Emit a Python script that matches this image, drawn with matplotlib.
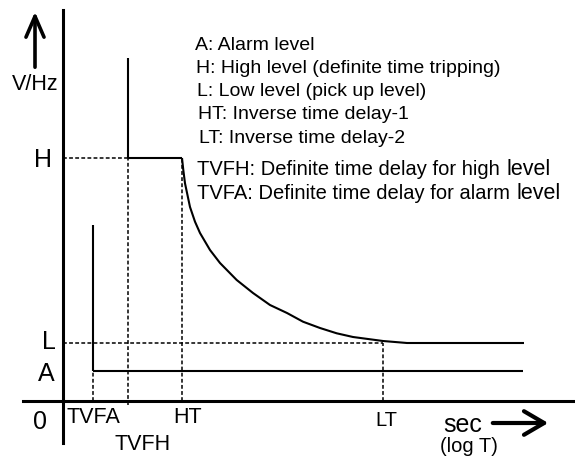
import matplotlib
matplotlib.use("Agg")
import matplotlib.pyplot as plt
from matplotlib.patches import FancyArrowPatch

plt.rcParams["font.family"] = ["Liberation Sans", "DejaVu Sans"]

# ---------------------------------------------------------------------------
# schematic values (arbitrary units, origin at the axis crossing)
# ---------------------------------------------------------------------------
level_names = ["H", "L", "A"]
level_values = [243, 58, 30]
time_names = ["TVFA", "TVFH", "HT", "LT"]
time_values = [30, 65, 119, 320]
t_end = 461
# inverse-time curve (from HT down to L)
curve_t = [119, 120.3, 122, 127, 132, 137, 147, 157, 173.7, 190, 207, 224,
           240, 257, 273.7, 290, 320, 344]
curve_v = [243, 231, 217.7, 194, 179.3, 168, 151, 138, 121, 108, 96, 88,
           79.3, 73, 67.7, 64, 60, 58]
spike_tops = {"TVFA": 176, "TVFH": 343}
legend_lines = ["A: Alarm level",
                "H: High level (definite time tripping)",
                "L: Low level (pick up level)",
                "HT: Inverse time delay-1",
                "LT: Inverse time delay-2",
                "TVFH: Definite time delay for high",
                "TVFA: Definite time delay for alarm"]

H, L, A = level_values
TVFA, TVFH, HT, LT = time_values

fig = plt.figure(figsize=(5.75, 4.61), dpi=100)
ax = fig.add_axes([0, 0, 1, 1])
ax.set_xlim(-63, 512)
ax.set_ylim(-60, 401)
ax.axis("off")

solid = dict(color="black", lw=1.5, solid_capstyle="butt")
dash = dict(color="black", lw=1.1, linestyle=(0, (2.5, 1.5)))

# axes
ax.plot([0, 0], [-42, 391], color="black", lw=2.2)
ax.plot([-40, 512], [0, 0], color="black", lw=2.2)

# dashed guides
ax.plot([0, TVFH], [H, H], **dash)
ax.plot([TVFH, TVFH], [-4, H], **dash)
ax.plot([HT, HT], [0, H], **dash)
ax.plot([0, LT], [L, L], **dash)
ax.plot([LT, LT], [0, L], **dash)
ax.plot([TVFA, TVFA], [0, A], **dash)

# characteristic
ax.plot([TVFH, TVFH], [H, spike_tops["TVFH"]], **solid)
ax.plot([TVFH, HT], [H, H], **solid)
ax.plot(curve_t + [t_end], curve_v + [L], **solid)
ax.plot([TVFA, TVFA], [A, spike_tops["TVFA"]], **solid)
ax.plot([TVFA, t_end - 1], [A, A], **solid)

# arrows
ax.add_patch(FancyArrowPatch((-28, 331), (-28, 392),
                             arrowstyle="->,head_length=1.5,head_width=0.65",
                             mutation_scale=10, lw=2.6, color="black"))
ax.add_patch(FancyArrowPatch((427, -22), (488, -22),
                             arrowstyle="->,head_length=1.45,head_width=0.85",
                             mutation_scale=10, lw=3.0, color="black"))

# axis texts
ax.text(-28, 316, "V/Hz", fontsize=15.5, ha="center", va="center")
ax.text(-23, -21, "0", fontsize=18, ha="center", va="center")
ax.text(-20.5, H - 2, "H", fontsize=18, ha="center", va="center")
ax.text(-14, L + 1, "L", fontsize=18, ha="center", va="center")
ax.text(-17, A - 3, "A", fontsize=18, ha="center", va="center")
time_label_y = {"TVFA": -16, "TVFH": -43, "HT": -16, "LT": -19}
time_label_dx = {"TVFA": 0, "TVFH": 15, "HT": 6, "LT": 3}
time_label_fs = {"TVFA": 15.5, "TVFH": 15.5, "HT": 15.5, "LT": 14.5}
for name, t in zip(time_names, time_values):
    ax.text(t + time_label_dx[name], time_label_y[name], name,
            fontsize=time_label_fs[name], ha="center", va="center")
ax.text(400, -31, "sec", fontsize=18, ha="center", va="baseline")
ax.text(406, -45, "(log T)", fontsize=14.5, ha="center", va="center")

# legend block
legend_x = [195, 196, 197, 198, 199, 197, 197]
legend_base = [50.5, 73, 96, 119, 143, 175, 199]
level_word_x = {"TVFH": 507, "TVFA": 517}
for txt, x, yb in zip(legend_lines, legend_x, legend_base):
    key = txt.split(":")[0]
    fs = 14.5 if key in level_word_x else 14
    ax.text(x - 63, 401 - yb, txt, fontsize=fs, ha="left", va="baseline")
    if key in level_word_x:
        ax.text(level_word_x[key] - 63, 401 - yb, "level", fontsize=15.5,
                ha="left", va="baseline")

fig.savefig("out.png", dpi=100)
